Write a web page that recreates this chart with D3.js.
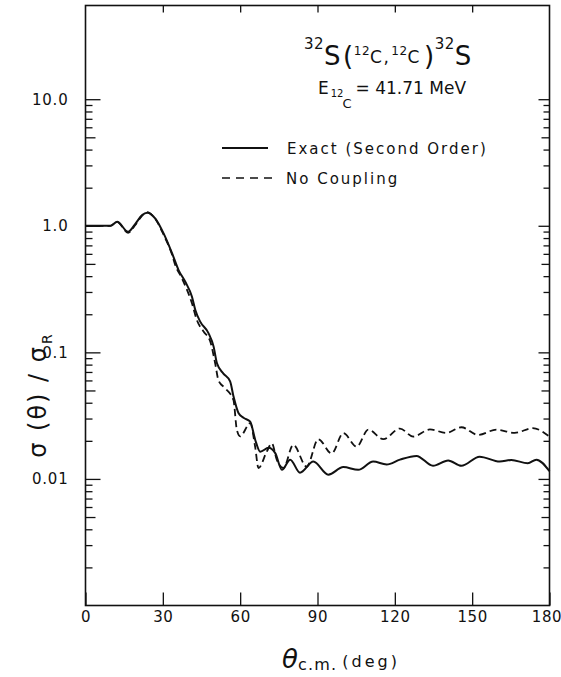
<!DOCTYPE html>
<html>
<head>
<meta charset="utf-8">
<script src="https://cdn.jsdelivr.net/npm/d3@7"></script>
<style>
  html, body { margin: 0; padding: 0; background: #fff; }
  svg { display: block; }
  text { font-family: "DejaVu Sans", "Liberation Sans", sans-serif; fill: #111; }
</style>
</head>
<body>
<svg id="chart" width="561" height="677"></svg>
<script>
// ---- data ----
const thetaExact = [0, 5, 9.7, 12.3, 16.5, 19.4, 21.9, 23.9, 27.1, 30.3, 33.6, 36.1, 38.7, 41.3, 42.6, 44.5, 47.7, 49.7, 51, 53.5, 56.1, 57.4, 59.4, 61.3, 63.9, 65.8, 67.8, 71, 73.6, 76.2, 79.4, 83.2, 88.4, 94.2, 100, 105.8, 111.6, 116.8, 122, 128.4, 134.8, 140.7, 145.8, 152.9, 160.7, 165.2, 171.6, 174.9, 180];
const exactRatio = [1.0, 1.0, 1.0, 1.075, 0.897, 1.04, 1.21, 1.27, 1.14, 0.87, 0.605, 0.447, 0.361, 0.275, 0.216, 0.175, 0.142, 0.111, 0.082, 0.068, 0.059, 0.045, 0.033, 0.0304, 0.0284, 0.0205, 0.0164, 0.0176, 0.016, 0.0118, 0.0142, 0.0112, 0.0137, 0.0108, 0.0124, 0.0118, 0.0137, 0.013, 0.0142, 0.0152, 0.0127, 0.014, 0.0127, 0.015, 0.0137, 0.0141, 0.0133, 0.0142, 0.0115];

const thetaNoCoupling = [0, 5, 9.7, 12.3, 16.5, 19.4, 21.9, 23.9, 27.1, 30.3, 33.6, 34.8, 37.4, 41.3, 43.2, 45.8, 48.4, 50.3, 51.6, 54.2, 57.4, 58.7, 60, 63.9, 65.8, 67.1, 70.3, 72.3, 74.2, 76.8, 80.6, 85.8, 90.3, 95.5, 100, 105.2, 109.7, 115.5, 122, 127.1, 133.6, 140, 145.8, 152.3, 159.4, 166.5, 173.5, 180];
const noCouplingRatio = [1.0, 1.0, 1.0, 1.07, 0.88, 1.02, 1.2, 1.28, 1.13, 0.85, 0.59, 0.49, 0.385, 0.244, 0.18, 0.146, 0.122, 0.082, 0.06, 0.052, 0.042, 0.0245, 0.0217, 0.0276, 0.018, 0.0122, 0.0164, 0.0191, 0.0142, 0.0122, 0.0186, 0.0125, 0.0206, 0.0159, 0.023, 0.018, 0.0245, 0.0206, 0.025, 0.0216, 0.0246, 0.0231, 0.0256, 0.0223, 0.0245, 0.0231, 0.0252, 0.0216];

const xTicks = [0, 30, 60, 90, 120, 150, 180];
const yMajorTicks = [0.01, 0.1, 1, 10];
const yTickLabels = ["0.01", "0.1", "1.0", "10.0"];
const xDomain = [0, 180];
const yDomain = [0.001, 55];
const legendLabels = ["Exact (Second Order)", "No Coupling"];

// ---- layout ----
const L = 85.5, R = 549.5, T = 5.5, B = 605.5;
const svg = d3.select("#chart");
const x = d3.scaleLinear().domain(xDomain).range([L, R]);
const y = d3.scaleLog().domain(yDomain).range([B, T]);

// minor tick positions (2..9 in each decade up to 10)
const yMinor = [], yMid = [];
[0.001, 0.01, 0.1, 1].forEach(d => {
  for (let k = 2; k <= 9; k++) {
    const v = +(d * k).toPrecision(3);
    if (k === 5) yMid.push(v); else yMinor.push(v);
  }
});

// frame
svg.append("rect").attr("x", L).attr("y", T).attr("width", R - L).attr("height", B - T)
  .attr("fill", "none").attr("stroke", "#111").attr("stroke-width", 1.6);

function styleAxis(g) {
  g.select(".domain").remove();
  g.selectAll(".tick line").attr("stroke", "#111").attr("stroke-width", 1.3);
}

// left axis
svg.append("g").attr("transform", `translate(${L},0)`)
  .call(d3.axisLeft(y).tickValues(yMajorTicks).tickSizeInner(-15).tickSizeOuter(0).tickPadding(18)
    .tickFormat((d, i) => yTickLabels[i]))
  .call(styleAxis)
  .call(g => g.selectAll("text").attr("font-size", 15).attr("letter-spacing", 0.8).attr("fill", "#111")
    .attr("x", -17).attr("text-anchor", "end"));
svg.append("g").attr("transform", `translate(${L},0)`)
  .call(d3.axisLeft(y).tickValues(yMid).tickSizeInner(-10).tickSizeOuter(0).tickFormat(""))
  .call(styleAxis);
svg.append("g").attr("transform", `translate(${L},0)`)
  .call(d3.axisLeft(y).tickValues(yMinor).tickSizeInner(-7).tickSizeOuter(0).tickFormat(""))
  .call(styleAxis);

// right axis
svg.append("g").attr("transform", `translate(${R},0)`)
  .call(d3.axisRight(y).tickValues(yMajorTicks).tickSizeInner(-11).tickSizeOuter(0).tickFormat(""))
  .call(styleAxis);
svg.append("g").attr("transform", `translate(${R},0)`)
  .call(d3.axisRight(y).tickValues(yMid).tickSizeInner(-8).tickSizeOuter(0).tickFormat(""))
  .call(styleAxis);
svg.append("g").attr("transform", `translate(${R},0)`)
  .call(d3.axisRight(y).tickValues(yMinor).tickSizeInner(-6).tickSizeOuter(0).tickFormat(""))
  .call(styleAxis);

// bottom axis
svg.append("g").attr("transform", `translate(0,${B})`)
  .call(d3.axisBottom(x).tickValues(xTicks).tickSizeInner(-13).tickSizeOuter(0).tickPadding(6)
    .tickFormat(d3.format("d")))
  .call(styleAxis)
  .call(g => g.selectAll("text").attr("font-size", 15).attr("letter-spacing", 0.6).attr("fill", "#111"))
  .call(g => g.selectAll(".tick").filter(d => d === 180).select("text").attr("dx", -3));

// top axis
svg.append("g").attr("transform", `translate(0,${T})`)
  .call(d3.axisTop(x).tickValues(xTicks.slice(1, -1)).tickSizeInner(-7).tickSizeOuter(0).tickFormat(""))
  .call(styleAxis);

// curves
const line = d3.line().x(d => x(d[0])).y(d => y(d[1])).curve(d3.curveMonotoneX);
const exactData = thetaExact.map((t, i) => [t, exactRatio[i]]);
const ncData = thetaNoCoupling.map((t, i) => [t, noCouplingRatio[i]]);

svg.append("path").datum(ncData).attr("d", line).attr("fill", "none")
  .attr("stroke", "#111").attr("stroke-width", 1.8).attr("stroke-dasharray", "7,4");
svg.append("path").datum(exactData).attr("d", line).attr("fill", "none")
  .attr("stroke", "#111").attr("stroke-width", 2);

// legend
const lg = svg.append("g");
lg.append("line").attr("x1", 222).attr("x2", 268).attr("y1", 148).attr("y2", 148)
  .attr("stroke", "#111").attr("stroke-width", 1.8);
lg.append("line").attr("x1", 222).attr("x2", 272).attr("y1", 178).attr("y2", 178)
  .attr("stroke", "#111").attr("stroke-width", 1.5).attr("stroke-dasharray", "8,6");
lg.append("text").attr("x", 287).attr("y", 153.5).attr("font-size", 15).attr("letter-spacing", 2).text(legendLabels[0]);
lg.append("text").attr("x", 286).attr("y", 183.5).attr("font-size", 15).attr("letter-spacing", 2).text(legendLabels[1]);

// reaction title
const t1 = svg.append("text").attr("x", 304).attr("y", 65).attr("font-size", 26).attr("letter-spacing", 0.5);
t1.append("tspan").attr("font-size", 15).attr("dy", -16).text("32");
t1.append("tspan").attr("dy", 16).text("S");
t1.append("tspan").attr("dx", 2).text("(");
t1.append("tspan").attr("font-size", 12).attr("dy", -10).text("12");
t1.append("tspan").attr("font-size", 17).attr("dy", 8).text("C");
t1.append("tspan").attr("font-size", 17).attr("dx", 1).text(",");
t1.append("tspan").attr("font-size", 12).attr("dy", -8).attr("dx", 2).text("12");
t1.append("tspan").attr("font-size", 17).attr("dy", 8).text("C");
t1.append("tspan").attr("dy", 2).attr("dx", 4).text(")");
t1.append("tspan").attr("font-size", 15).attr("dy", -16).text("32");
t1.append("tspan").attr("dy", 16).text("S");

// energy line: E with subscript "12C" (C set lower, as in the reference)
const t2 = svg.append("text").attr("x", 318).attr("y", 94).attr("font-size", 17);
t2.append("tspan").text("E");
t2.append("tspan").attr("font-size", 10).attr("dy", 3).attr("dx", 2).text("12");
t2.append("tspan").attr("font-size", 13).attr("dy", 11).attr("dx", -1).text("C");
t2.append("tspan").attr("dy", -14).attr("dx", 4).text("= 41.71 MeV");

// y axis title
const yt = svg.append("text").attr("transform", "translate(46,395) rotate(-90)")
  .attr("text-anchor", "middle").attr("font-size", 24).attr("letter-spacing", 2);
yt.append("tspan").text("σ (θ) / σ");
yt.append("tspan").attr("font-size", 14).attr("dy", 6).attr("dx", 1).text("R");

// x axis title
const xt = svg.append("text").attr("x", 282).attr("y", 668).attr("font-size", 26);
xt.append("tspan").attr("font-style", "italic").text("θ");
xt.append("tspan").attr("font-size", 16).attr("dy", 2).attr("letter-spacing", 1.2).text("c.m.");
xt.append("tspan").attr("font-size", 16).attr("dy", -3).attr("dx", 5).attr("letter-spacing", 3).text("(deg)");
</script>
</body>
</html>
